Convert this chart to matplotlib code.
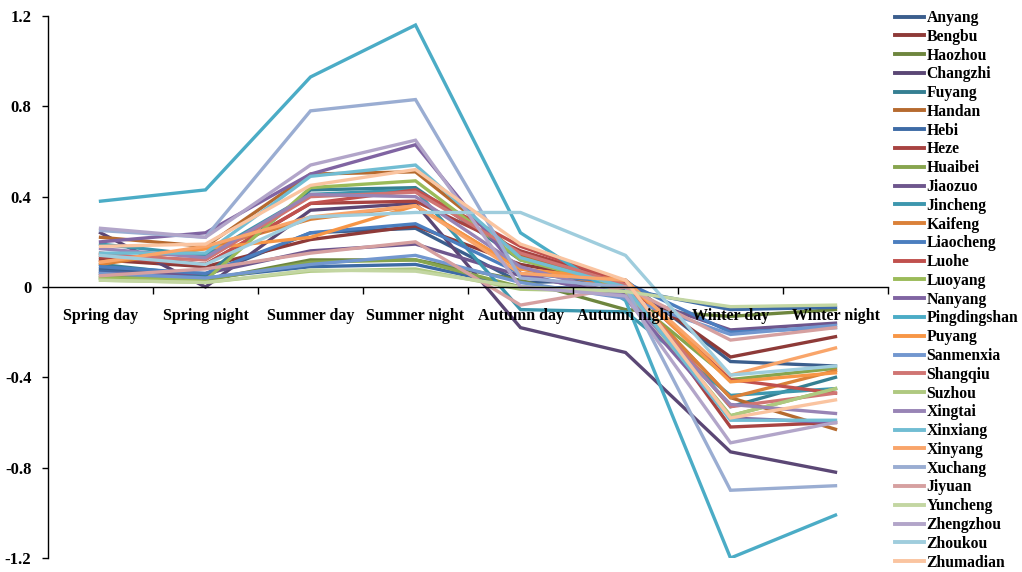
import matplotlib
matplotlib.use("Agg")
import matplotlib.pyplot as plt
from matplotlib.ticker import FixedLocator

categories = ["Spring day", "Spring night", "Summer day", "Summer night",
              "Autumn day", "Autumn night", "Winter day", "Winter night"]

cities = ["Anyang", "Bengbu", "Haozhou", "Changzhi", "Fuyang", "Handan",
          "Hebi", "Heze", "Huaibei", "Jiaozuo", "Jincheng", "Kaifeng",
          "Liaocheng", "Luohe", "Luoyang", "Nanyang", "Pingdingshan", "Puyang",
          "Sanmenxia", "Shangqiu", "Suzhou", "Xingtai", "Xinxiang", "Xinyang",
          "Xuchang", "Jiyuan", "Yuncheng", "Zhengzhou", "Zhoukou", "Zhumadian"]

values = [
    [0.08, 0.05, 0.24, 0.26, 0.02, 0.03, -0.33, -0.35],    # Anyang
    [0.12, 0.09, 0.21, 0.27, 0.10, 0.02, -0.31, -0.22],    # Bengbu
    [0.04, 0.03, 0.12, 0.12, 0.03, -0.10, -0.13, -0.10],   # Haozhou
    [0.24, 0.00, 0.34, 0.37, -0.18, -0.29, -0.73, -0.82],  # Changzhi
    [0.10, 0.05, 0.43, 0.44, 0.12, 0.01, -0.53, -0.40],    # Fuyang
    [0.22, 0.18, 0.50, 0.51, 0.14, 0.00, -0.49, -0.63],    # Handan
    [0.07, 0.04, 0.09, 0.10, 0.00, -0.01, -0.10, -0.09],   # Hebi
    [0.13, 0.10, 0.37, 0.38, 0.16, 0.02, -0.62, -0.60],    # Heze
    [0.05, 0.03, 0.11, 0.12, 0.00, -0.03, -0.41, -0.36],   # Huaibei
    [0.06, 0.06, 0.16, 0.19, 0.05, -0.03, -0.19, -0.16],   # Jiaozuo
    [0.19, 0.14, 0.41, 0.43, -0.10, -0.11, -0.48, -0.45],  # Jincheng
    [0.10, 0.17, 0.30, 0.36, 0.08, 0.00, -0.49, -0.37],    # Kaifeng
    [0.09, 0.06, 0.24, 0.28, 0.06, 0.02, -0.20, -0.18],    # Liaocheng
    [0.15, 0.10, 0.37, 0.43, 0.18, 0.02, -0.41, -0.47],    # Luohe
    [0.04, 0.03, 0.44, 0.47, 0.12, 0.00, -0.57, -0.45],    # Luoyang
    [0.20, 0.24, 0.50, 0.63, 0.06, -0.05, -0.58, -0.60],   # Nanyang
    [0.38, 0.43, 0.93, 1.16, 0.24, -0.06, -1.20, -1.01],   # Pingdingshan
    [0.11, 0.17, 0.22, 0.36, 0.08, 0.03, -0.42, -0.38],    # Puyang
    [0.06, 0.04, 0.10, 0.14, 0.02, -0.05, -0.21, -0.17],   # Sanmenxia
    [0.14, 0.12, 0.40, 0.42, 0.15, 0.01, -0.53, -0.47],    # Shangqiu
    [0.03, 0.02, 0.07, 0.08, -0.01, -0.02, -0.57, -0.45],  # Suzhou
    [0.17, 0.13, 0.41, 0.40, 0.09, -0.04, -0.52, -0.56],   # Xingtai
    [0.15, 0.15, 0.49, 0.54, 0.13, 0.00, -0.59, -0.59],    # Xinxiang
    [0.11, 0.18, 0.31, 0.36, 0.06, 0.03, -0.39, -0.27],    # Xinyang
    [0.25, 0.22, 0.78, 0.83, 0.04, 0.00, -0.90, -0.88],    # Xuchang
    [0.05, 0.08, 0.15, 0.20, -0.08, 0.00, -0.235, -0.18],  # Jiyuan
    [0.03, 0.02, 0.075, 0.07, 0.00, -0.02, -0.087, -0.08], # Yuncheng
    [0.26, 0.22, 0.54, 0.65, 0.00, -0.04, -0.69, -0.60],   # Zhengzhou
    [0.14, 0.10, 0.31, 0.33, 0.33, 0.14, -0.39, -0.35],    # Zhoukou
    [0.18, 0.19, 0.45, 0.52, 0.19, 0.03, -0.58, -0.50],    # Zhumadian
]

colors = ["#3B5E8D", "#8E3A38", "#6E863E", "#5B4775", "#357F92", "#B66A2F",
          "#3E6BA6", "#A84341", "#87A54E", "#6E568D", "#3D97AE", "#DA8139",
          "#4B7EBF", "#C0504D", "#9BBB59", "#8064A2", "#4BACC6", "#F79646",
          "#7297CF", "#D07573", "#AFC980", "#9884B5", "#71BDD3", "#F9A56A",
          "#9AADD2", "#D6A0A0", "#C3D6A2", "#B2A5C9", "#9FCDDD", "#FAC4A0"]

yticks = [-1.2, -0.8, -0.4, 0, 0.4, 0.8, 1.2]
ytick_labels = ["-1.2", "-0.8", "-0.4", "0", "0.4", "0.8", "1.2"]

plt.rcParams['font.family'] = ['Liberation Serif', 'DejaVu Serif']
plt.rcParams['font.weight'] = 'bold'

fig = plt.figure(figsize=(10.22, 5.72), dpi=100)
ax = fig.add_axes([48 / 1022, 14 / 572, 840 / 1022, 542 / 572])
ax.set_axisbelow(False)

x = list(range(len(categories)))
for name, vals, c in zip(cities, values, colors):
    ax.plot(x, vals, color=c, lw=2.4, label=name, solid_joinstyle='miter')

ax.set_xlim(-0.5, len(categories) - 0.5)
ax.set_ylim(-1.2, 1.2)
ax.set_yticks(yticks)
ax.set_yticklabels(ytick_labels, fontsize=12, fontweight='bold')

ax.spines['top'].set_visible(False)
ax.spines['right'].set_visible(False)
ax.spines['bottom'].set_position(('data', 0))
ax.spines['left'].set_linewidth(1.0)
ax.spines['bottom'].set_linewidth(1.0)

ax.set_xticks(x)
ax.set_xticklabels(categories, fontsize=11.5, fontweight='bold')
ax.tick_params(axis='x', which='major', length=0, pad=15)
ax.xaxis.set_minor_locator(FixedLocator([i + 0.5 for i in range(len(categories))]))
ax.tick_params(axis='x', which='minor', length=5, direction='out', width=1)
ax.tick_params(axis='y', length=4, direction='out', width=1, pad=8)
ax.xaxis.set_zorder(5)

leg = fig.legend(loc='upper left', bbox_to_anchor=(895 / 1022, 1 - 10 / 572),
                 frameon=False, handlelength=1.85,
                 handletextpad=0.15, labelspacing=0.177, borderpad=0,
                 borderaxespad=0, prop={'weight': 'bold', 'size': 11.3})
for line in leg.get_lines():
    line.set_linewidth(2.8)

fig.savefig("out.png", dpi=100)
